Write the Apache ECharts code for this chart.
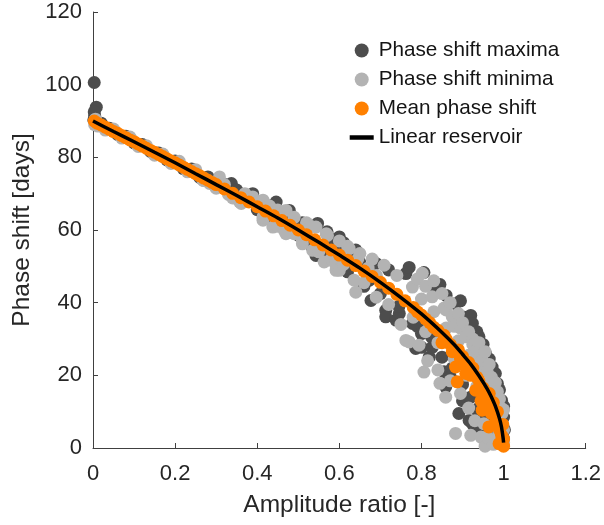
<!DOCTYPE html>
<html><head><meta charset="utf-8">
<script src="https://cdn.jsdelivr.net/npm/echarts@6/dist/echarts.min.js"></script>
<style>html,body{margin:0;padding:0;background:#fff}#c{width:604px;height:525px}</style>
</head><body><div id="c"></div>
<script>
const xTicks = [0, 0.2, 0.4, 0.6, 0.8, 1, 1.2];
const yTicks = [0, 20, 40, 60, 80, 100, 120];
const seriesNames = ['Phase shift maxima', 'Phase shift minima', 'Mean phase shift', 'Linear reservoir'];

const maximaPts = [
[0.003,100.6],[0.008,93.8],[0.004,91.5],[0.002,90.3],[0.01,89.8],[0.003,92.5],
[0.02,89.4],[0.04,88.0],[0.06,86.3],[0.08,85.8],[0.10,84.0],[0.12,83.5],[0.14,81.6],[0.16,81.2],
[0.18,79.3],[0.20,79.0],[0.22,76.9],[0.24,76.8],[0.26,74.5],[0.28,74.6],[0.29,73.5],[0.30,72.0],[0.32,72.6],
[0.337,72.8],[0.35,71.0],[0.36,68.3],[0.38,69.4],[0.389,70.0],[0.40,65.6],[0.42,67.0],[0.43,63.0],
[0.446,67.7],[0.46,61.5],[0.478,65.4],[0.48,64.0],[0.49,62.5],[0.50,58.6],[0.51,62.0],[0.52,61.5],
[0.53,56.0],[0.543,53.0],[0.547,61.8],[0.56,53.0],[0.57,59.5],[0.58,57.5],[0.59,55.0],[0.60,58.1],
[0.61,56.5],[0.62,48.5],[0.63,52.5],[0.64,54.5],[0.65,51.0],
[0.66,44.5],[0.673,46.2],[0.677,40.6],[0.689,50.8],[0.70,42.5],[0.713,37.9],[0.713,36.1],[0.72,49.0],
[0.738,35.2],[0.746,37.0],[0.745,39.0],[0.762,48.0],[0.77,49.7],[0.778,34.3],[0.786,27.4],[0.79,33.5],
[0.80,31.5],[0.806,48.3],[0.80,27.7],[0.819,25.0],[0.826,27.7],[0.825,30.5],[0.835,43.4],[0.845,45.0],
[0.85,25.0],[0.855,21.0],[0.859,16.8],[0.86,42.0],[0.87,19.5],[0.875,22.0],[0.883,39.7],[0.891,9.5],
[0.895,40.5],[0.90,13.0],[0.90,17.5],[0.905,36.0],[0.916,7.6],[0.92,36.5],[0.92,14.0],[0.924,34.3],
[0.924,6.7],[0.935,32.0],[0.935,10.5],[0.94,4.9],[0.94,30.6],[0.94,11.0],[0.95,28.5],[0.956,5.8],
[0.955,8.5],[0.956,26.0],[0.965,24.5],[0.965,5.0],[0.972,22.3],[0.975,9.0],[0.98,20.5],[0.985,17.7],
[0.985,3.5],[0.99,16.0],[0.995,13.1],[0.995,6.0],[1.0,11.5],[1.0,8.5],[1.002,5.0],[1.0,2.5]
];

const minimaPts = [
[0.004,89.0],[0.006,90.5],[0.012,88.6],
[0.03,87.5],[0.05,87.8],[0.07,85.3],[0.09,85.6],[0.11,83.0],[0.13,83.2],[0.15,80.6],[0.17,80.9],
[0.19,78.3],[0.21,78.9],[0.23,76.0],[0.25,76.6],[0.268,73.7],[0.27,73.6],[0.284,72.8],[0.30,71.5],
[0.308,74.6],[0.32,72.5],[0.33,69.8],[0.34,68.8],[0.357,67.7],[0.361,67.3],[0.37,70.0],[0.389,69.1],
[0.40,67.5],[0.414,68.2],[0.414,62.7],[0.414,63.6],[0.43,66.6],[0.438,60.8],[0.45,61.0],[0.45,65.5],
[0.466,59.9],[0.47,65.4],[0.47,59.0],[0.49,63.5],[0.49,59.0],[0.51,56.2],[0.51,57.2],[0.52,62.0],
[0.535,54.4],[0.53,61.0],[0.543,60.8],[0.55,54.0],[0.563,51.2],[0.568,59.0],[0.571,58.5],[0.58,52.0],
[0.59,50.7],[0.592,48.9],[0.60,48.9],[0.60,57.0],[0.61,50.5],[0.62,55.5],[0.624,54.9],[0.636,46.2],
[0.64,42.9],[0.645,52.0],[0.65,53.5],[0.66,45.5],[0.67,49.5],[0.68,52.0],[0.69,41.5],[0.69,47.5],[0.709,50.3],
[0.72,39.5],[0.74,47.5],[0.75,34.0],[0.762,29.6],[0.77,29.2],[0.778,44.3],[0.78,36.0],[0.79,46.5],
[0.794,28.3],[0.80,41.0],[0.802,48.1],[0.806,20.9],[0.81,32.0],[0.81,44.5],[0.815,24.0],[0.826,41.6],
[0.83,46.0],[0.83,37.5],[0.84,29.0],[0.84,21.5],[0.845,17.8],[0.85,42.5],[0.855,38.5],[0.86,33.0],
[0.86,38.0],[0.859,14.0],[0.87,40.0],[0.87,18.5],[0.875,36.1],[0.88,33.5],[0.88,24.5],[0.883,4.0],
[0.89,37.0],[0.89,29.5],[0.895,33.0],[0.895,15.0],[0.90,34.5],[0.908,30.6],[0.91,20.0],[0.915,32.0],
[0.915,25.5],[0.915,11.0],[0.92,3.5],[0.925,30.0],[0.925,28.5],[0.93,7.5],[0.935,27.0],[0.935,24.0],
[0.935,17.0],[0.94,29.0],[0.945,21.0],[0.945,3.0],[0.948,24.1],[0.952,6.7],[0.955,26.5],[0.955,0.5],
[0.955,12.5],[0.96,21.0],[0.96,17.5],[0.96,3.0],[0.965,23.0],[0.97,19.5],[0.97,6.0],[0.972,16.8],
[0.975,13.5],[0.975,1.0],[0.98,18.0],[0.98,13.0],[0.985,15.5],[0.985,3.0],[0.99,13.5],[0.99,9.0],
[0.993,11.0],[0.995,5.5],[0.996,9.5],[1.0,10.5],[1.0,5.0],[1.0,1.5]
];

const meanPts = [
[0.003,90.0],[0.01,89.4],[0.02,88.9],[0.03,88.3],[0.04,87.7],[0.05,87.1],[0.06,86.6],[0.07,86.0],
[0.08,85.4],[0.09,84.8],[0.10,84.3],[0.11,83.7],[0.12,83.1],[0.13,82.5],[0.14,81.9],[0.15,81.4],
[0.16,80.8],[0.17,80.2],[0.18,79.6],[0.19,79.0],[0.20,78.5],[0.21,77.9],[0.22,77.3],[0.23,76.7],
[0.24,76.1],[0.25,75.5],[0.26,74.9],[0.27,74.3],[0.28,73.7],[0.29,73.1],[0.30,72.5],[0.32,71.3],
[0.34,70.1],[0.36,68.9],[0.38,67.7],[0.40,66.4],[0.42,65.2],[0.44,63.9],[0.46,62.6],[0.48,61.3],
[0.50,60.0],[0.52,58.7],[0.54,57.3],[0.56,55.9],[0.58,54.5],[0.60,53.1],[0.62,51.7],[0.64,50.2],
[0.66,48.7],[0.68,47.2],[0.70,45.6],[0.72,44.0],[0.74,42.3],[0.76,40.5],[0.78,38.7],[0.79,37.5],
[0.80,36.6],[0.81,35.5],[0.82,34.5],[0.83,33.2],[0.84,32.4],[0.85,29.0],[0.855,31.0],[0.86,30.0],
[0.87,28.5],[0.875,26.5],[0.883,22.3],[0.887,18.2],[0.89,27.0],[0.895,24.5],[0.90,25.2],[0.908,20.5],
[0.91,22.5],[0.915,23.5],[0.92,20.0],[0.925,22.0],[0.932,15.9],[0.935,19.5],[0.94,18.5],[0.945,13.0],
[0.948,10.4],[0.95,16.5],[0.955,14.0],[0.96,12.0],[0.964,5.8],[0.965,15.0],[0.97,9.5],[0.975,12.5],
[0.98,7.0],[0.985,10.0],[0.989,1.2],[0.99,5.0],[0.995,3.5],[1.0,0.5],[1.0,2.5],[0.998,6.5]
];

const reservoirPts = [
[0,90.0],[0.05,87.1],[0.1,84.3],[0.15,81.4],[0.2,78.5],[0.25,75.5],[0.3,72.5],[0.35,69.5],
[0.4,66.4],[0.45,63.3],[0.5,60.0],[0.55,56.6],[0.6,53.1],[0.65,49.5],[0.7,45.6],[0.75,41.4],
[0.8,36.9],[0.85,31.8],[0.88,28.4],[0.9,25.8],[0.92,23.1],[0.94,19.9],[0.96,16.3],[0.97,14.1],
[0.98,11.5],[0.99,8.1],[0.995,5.7],[0.999,2.6],[1.0,1.5]
];

const FONT = 'Liberation Sans, Arial, Helvetica, sans-serif';
const TXT = '#262626';
const AX = '#404040';

const chart = echarts.init(document.getElementById('c'), null, {renderer: 'canvas'});
chart.setOption({
  animation: false,
  backgroundColor: '#ffffff',
  grid: {left: 93, right: 17, top: 12, bottom: 77, containLabel: false},
  legend: {
    orient: 'vertical',
    left: 344.7,
    top: 35,
    itemWidth: 24,
    itemHeight: 14,
    itemGap: 8,
    selectedMode: false,
    textStyle: {fontFamily: FONT, fontSize: 20.7, color: '#141414', lineHeight: 20},
    data: [
      {name: seriesNames[0], icon: 'circle'},
      {name: seriesNames[1], icon: 'circle'},
      {name: seriesNames[2], icon: 'circle'},
      {name: seriesNames[3], icon: 'path://M0,0L24,0L24,4.5L0,4.5Z'}
    ]
  },
  xAxis: {
    type: 'value', min: xTicks[0], max: xTicks[xTicks.length-1], interval: 0.2,
    name: 'Amplitude ratio [-]', nameLocation: 'middle', nameGap: 45,
    nameTextStyle: {fontFamily: FONT, fontSize: 24.5, color: TXT},
    axisLine: {show: true, lineStyle: {color: AX, width: 1}},
    axisTick: {show: true, inside: true, length: 5, lineStyle: {color: AX}},
    axisLabel: {fontFamily: FONT, fontSize: 22, color: TXT, margin: 15,
      formatter: v => String(+v.toFixed(1))},
    splitLine: {show: false}
  },
  yAxis: {
    type: 'value', min: yTicks[0], max: yTicks[yTicks.length-1], interval: 20,
    name: 'Phase shift [days]', nameLocation: 'middle', nameGap: 57,
    nameTextStyle: {fontFamily: FONT, fontSize: 24.5, color: TXT},
    axisLine: {show: true, lineStyle: {color: AX, width: 1}},
    axisTick: {show: true, inside: true, length: 5, lineStyle: {color: AX}},
    axisLabel: {fontFamily: FONT, fontSize: 22, color: TXT, margin: 11},
    splitLine: {show: false}
  },
  series: [
    {name: seriesNames[0], type: 'scatter', data: maximaPts, symbolSize: 13,
     itemStyle: {color: '#4d4d4d', opacity: 1}, z: 2},
    {name: seriesNames[1], type: 'scatter', data: minimaPts, symbolSize: 13,
     itemStyle: {color: '#b3b3b3', opacity: 1}, z: 3},
    {name: seriesNames[2], type: 'scatter', data: meanPts, symbolSize: 13,
     itemStyle: {color: '#ff8000', opacity: 1}, z: 4},
    {name: seriesNames[3], type: 'line', data: reservoirPts, showSymbol: false, symbol: 'none',
     smooth: 0.3, lineStyle: {color: '#000000', width: 3.5}, itemStyle: {color: '#000000'}, z: 5}
  ]
});
</script>
</body></html>
